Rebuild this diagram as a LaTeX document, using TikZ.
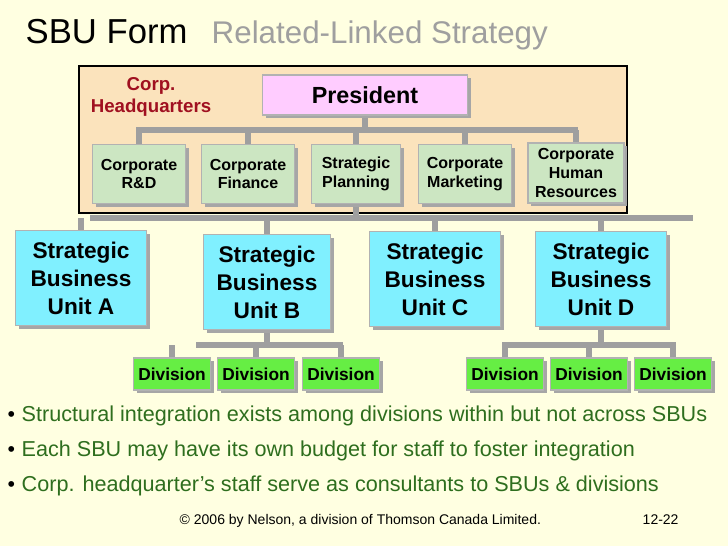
\documentclass[tikz,border=0pt]{standalone}
\usepackage{fontspec}
\setmainfont{Liberation Sans}
\usetikzlibrary{shadows}
\definecolor{bg}{HTML}{FFFFE1}
\definecolor{hq}{HTML}{FBE3BC}
\definecolor{staff}{HTML}{CCE6C2}
\definecolor{sbu}{HTML}{80F0FF}
\definecolor{div}{HTML}{66EE44}
\definecolor{pres}{HTML}{FFCCFF}
\definecolor{hqtext}{HTML}{A01020}
\definecolor{bul}{HTML}{2E6E1E}
\pgfdeclarelayer{bottom}
\pgfdeclarelayer{lines}
\pgfsetlayers{bottom,lines,main}
\tikzset{
 px/.style={x=0.75pt,y=-0.75pt},
 box/.style={draw=gray!60,line width=0.8pt,font=\bfseries,align=center,inner sep=0pt,
   drop shadow={shadow xshift=2.5pt,shadow yshift=-2.5pt,fill=gray!70,opacity=1}},
 conn/.style={draw=gray!75,line width=4.2pt},
 st/.style={box,fill=staff,minimum width=70pt,minimum height=44pt,font=\bfseries\fontsize{12}{14}\selectfont},
 sb/.style={box,fill=sbu,minimum width=98pt,minimum height=71pt,font=\bfseries\fontsize{17}{21}\selectfont},
 dv/.style={box,fill=div,minimum width=58pt,minimum height=24pt,font=\bfseries\fontsize{13}{15}\selectfont},
 bl/.style={anchor=base west,text=bul,font=\fontsize{16.2}{18}\selectfont},
 dot/.style={anchor=base west,font=\fontsize{16}{18}\selectfont},
}
\begin{document}
\begin{tikzpicture}[px]
\useasboundingbox (0,0) rectangle (728,546);
\begin{pgfonlayer}{bottom}
\fill[bg] (0,0) rectangle (728,546);
\draw[black,line width=0.8pt,fill=hq] (79,66) rectangle (627,213);
\end{pgfonlayer}
\node[anchor=base west,font=\fontsize{26}{30}\selectfont] (t1) at (21,43) {SBU Form};
\node[anchor=base west,font=\fontsize{23.5}{26}\selectfont,text=gray!75] (t2) at (207,43) {Related-Linked Strategy};
\node[font=\bfseries\fontsize{14}{17}\selectfont,text=hqtext,align=center] (hqlab) at (151,97) {Corp.\\Headquarters};
\node[box,fill=pres,minimum width=154pt,minimum height=30pt,font=\bfseries\fontsize{17.5}{20}\selectfont] (pres) at (365,95) {President};
\node[st] (rd) at (139,174) {Corporate\\R\&D};
\node[st] (fin) at (248,174) {Corporate\\Finance};
\node[st,minimum width=67pt] (sp) at (356,174) {Strategic\\Planning};
\node[st] (mk) at (465,174) {Corporate\\Marketing};
\node[st,minimum width=72pt,minimum height=45pt] (hr) at (576,173) {Corporate\\Human\\Resources};
\node[sb] (a) at (81,278) {Strategic\\Business\\Unit A};
\node[sb,minimum width=95pt] (b) at (267,282) {Strategic\\Business\\Unit B};
\node[sb] (c) at (435,279) {Strategic\\Business\\Unit C};
\node[sb] (d) at (601,279) {Strategic\\Business\\Unit D};
\node[dv] (b1) at (172,374) {Division};
\node[dv] (b2) at (256,374) {Division};
\node[dv] (b3) at (341,374) {Division};
\node[dv] (d1) at (505,374) {Division};
\node[dv] (d2) at (589,374) {Division};
\node[dv] (d3) at (673,374) {Division};
\coordinate (hb1) at (139,130); \coordinate (hb2) at (575,130);
\coordinate (sb1) at (93,218); \coordinate (sb2) at (690,218);
\coordinate (bb1) at (199,345); \coordinate (bb2) at (340,345);
\coordinate (db1) at (505,345); \coordinate (db2) at (673,345);
\begin{pgfonlayer}{lines}
\draw[conn] (pres.south) -- (pres.south|-hb1);
\draw[conn,line cap=rect] (hb1) -- (hb2);
\foreach \n in {rd,fin,sp,mk,hr} \draw[conn] (\n.north) -- (\n.north|-hb1);
\draw[conn] (sp.south) -- (sp.south|-sb1);
\draw[conn,line cap=rect] (sb1) -- (sb2);
\foreach \n in {a,b,c,d} \draw[conn] (\n.north) -- (\n.north|-sb1);
\draw[conn] (b.south) -- (b.south|-bb1);
\draw[conn,line cap=rect] (bb1) -- (bb2);
\foreach \n in {b1,b2,b3} \draw[conn] (\n.north) -- (\n.north|-bb1);
\draw[conn] (d.south) -- (d.south|-db1);
\draw[conn,line cap=rect] (db1) -- (db2);
\foreach \n in {d1,d2,d3} \draw[conn] (\n.north) -- (\n.north|-db1);
\end{pgfonlayer}
\node[dot] (p1) at (3,421) {•};
\node[bl] (l1) at (17,421) {Structural integration exists among divisions within but not across SBUs};
\node[dot] (p2) at (3,456) {•};
\node[bl] (l2) at (17,456) {Each SBU may have its own budget for staff to foster integration};
\node[dot] (p3) at (3,491) {•};
\node[bl] (l3) at (17,491) {Corp. headquarter’s staff serve as consultants to SBUs \& divisions};
\node[anchor=base west,font=\fontsize{10.5}{12}\selectfont] (f1) at (175,524) {© 2006 by Nelson, a division of Thomson Canada Limited.};
\node[anchor=base west,font=\fontsize{10.5}{12}\selectfont] (f2) at (638,524) {12-22};
\end{tikzpicture}
\end{document}
